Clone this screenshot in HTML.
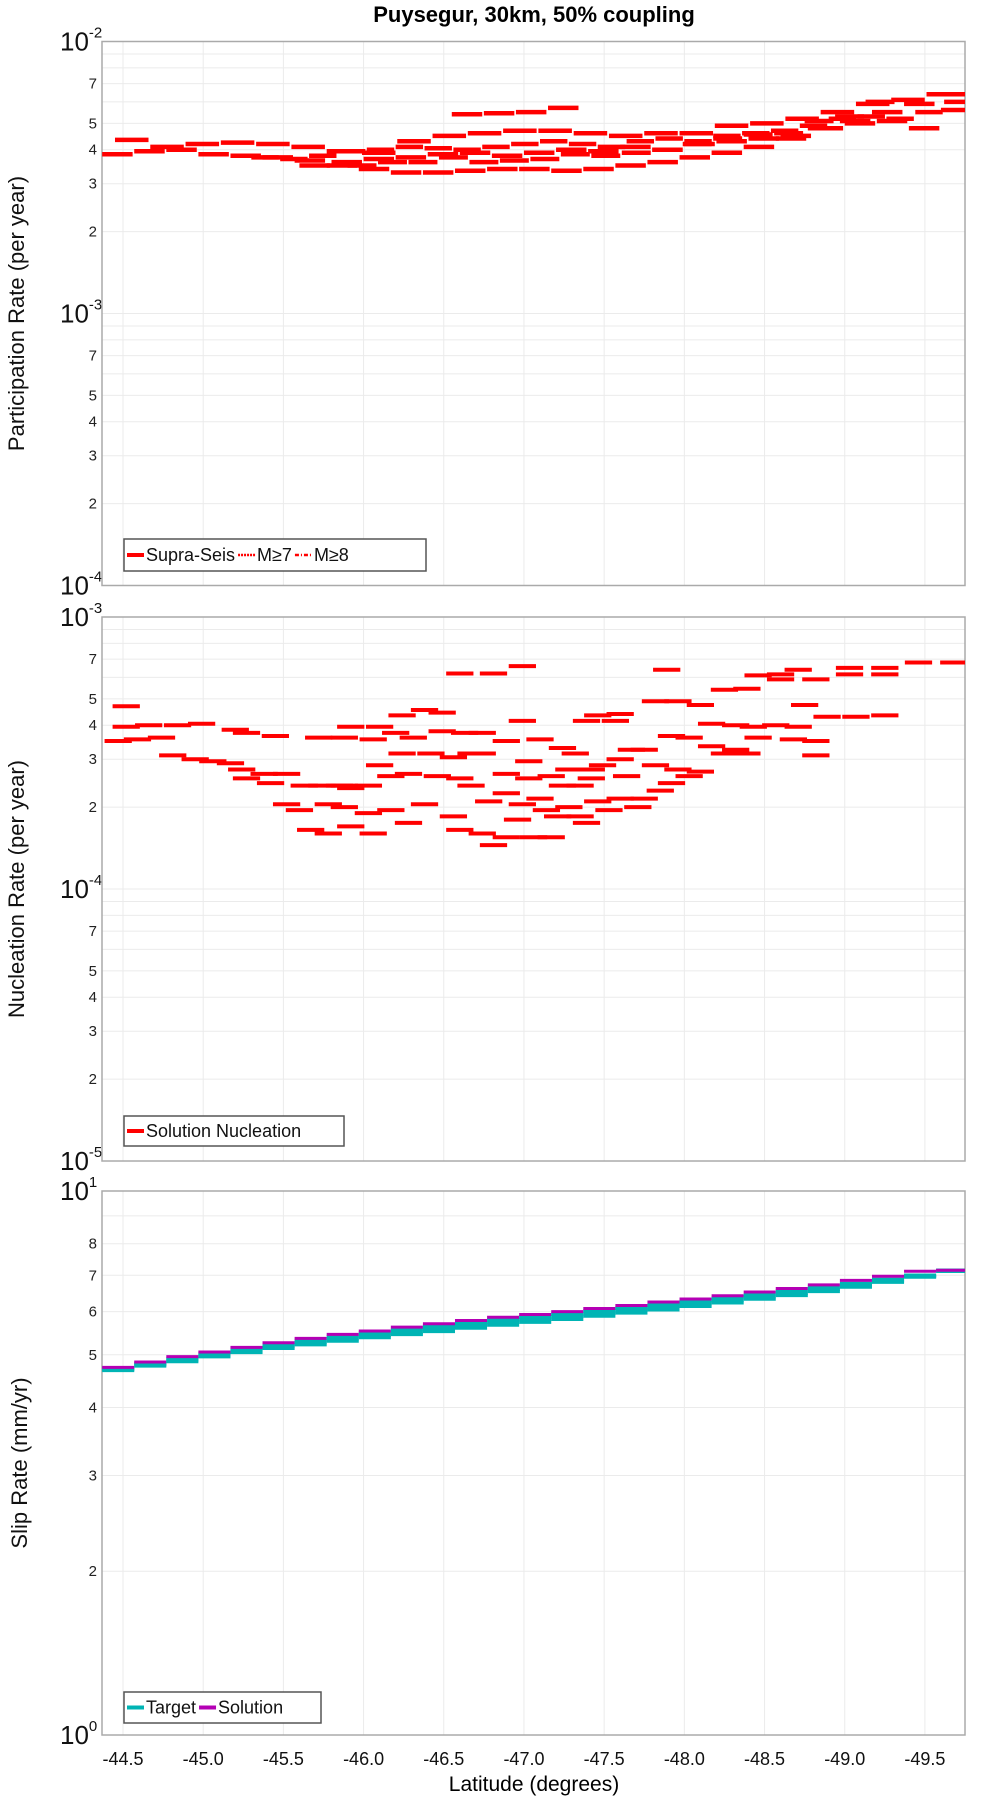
<!DOCTYPE html>
<html><head><meta charset="utf-8"><style>
html,body{margin:0;padding:0;background:#fff;}
svg{display:block;font-family:"Liberation Sans","DejaVu Sans",sans-serif;}
</style></head><body>
<svg id="chart" width="1000" height="1800" viewBox="0 0 1000 1800" xmlns="http://www.w3.org/2000/svg">
<text x="534" y="22" font-size="22" font-weight="bold" text-anchor="middle">Puysegur, 30km, 50% coupling</text>
<text x="534" y="1791" font-size="21" text-anchor="middle">Latitude (degrees)</text>
<g id="layer"></g>
</svg>
<script>
// ---------- data ----------
const xTickLabels = ["-44.5","-45.0","-45.5","-46.0","-46.5","-47.0","-47.5","-48.0","-48.5","-49.0","-49.5"];
const xTickValues = [-44.5,-45.0,-45.5,-46.0,-46.5,-47.0,-47.5,-48.0,-48.5,-49.0,-49.5];
// Participation tracks (x1e-3 per year), each: start lat, segment length (deg), values
const partStarts = [-44.37, -44.45, -45.3, -45.6, -45.9, -46.55];
const partLens = [0.2, 0.22, 0.18, 0.2, 0.19, 0.2];
const partTrack1 = [3.85,3.95,4.0,3.85,3.8,3.75,3.65,3.5,3.4,3.3,3.3,3.35,3.4,3.4,3.35,3.4,3.5,3.6,3.75,3.9,4.1,4.4,4.8,5.1,5.5,5.9,6.4];
const partTrack2 = [4.35,4.1,4.2,4.25,4.2,4.1,3.95,3.9,4.3,4.5,4.6,4.7,4.7,4.6,4.5,4.6,4.6,4.9,5.0,5.2,5.5,5.9,6.1,6.4];
const partTrack3 = [3.75,3.7,3.8,3.95,4.0,4.1,4.05,4.0,4.1,4.2,4.3,4.2,4.1,4.3,4.4,4.3,4.5,4.6,4.7,4.9,5.2,5.3,5.2,5.5,6.0];
const partTrack4 = [3.5,3.6,3.7,3.75,3.85,3.9,3.8,3.9,4.0,3.95,4.1,4.0,4.2,4.3,4.4,4.5,4.8,5.0,5.1,4.8,5.6];
const partTrack5 = [3.5,3.6,3.6,3.75,3.6,3.65,3.7,3.85,3.8,3.9,4.0,4.2,4.4,4.55,4.6,5.1,5.3,6.0];
const partTrack6 = [5.4,5.45,5.5,5.7];
// Nucleation segments (center lat, value x1e-4 per year)
const nucLat = [-44.47,-44.59,-44.74,-44.52,-44.66,-44.84,-44.99,-44.52,
-44.81,-44.95,-45.06,-45.17,-45.24,-45.38,-45.52,-45.27,-45.42,
-45.20,-45.27,-45.45,
-45.52,-45.63,-45.74,-45.85,-45.88,-45.92,
-45.60,-45.78,-45.88,-46.03,-45.67,-45.78,-45.92,-46.06,
-45.72,-45.88,-46.06,-45.92,-46.10,-46.20,-46.24,-46.38,-46.49,-46.31,
-46.10,-46.17,-46.28,-46.03,-46.17,-46.28,-46.38,
-46.24,-46.42,-46.56,-46.46,-46.60,-46.67,-46.67,
-46.49,-46.63,-46.74,-46.74,-46.60,-46.81,-46.99,
-46.56,-46.60,-46.74,-46.81,-46.89,-46.96,-47.06,-47.17,
-46.78,-46.89,-46.99,-47.10,-47.14,-47.21,-47.28,-47.35,
-46.89,-47.03,-47.17,-47.24,-47.35,-47.42,
-46.89,-46.99,-47.10,-47.24,-47.32,-47.03,-47.28,-47.42,
-47.46,-47.60,-47.39,-47.57,-47.49,-47.60,-47.67,-47.64,
-47.46,-47.60,-47.39,-47.53,-47.71,-47.75,-47.85,-47.92,
-47.82,-47.96,-47.89,-47.75,-47.92,-48.03,-47.82,-47.96,-48.03,-48.10,
-48.10,-48.25,-48.39,-48.46,-48.60,-48.71,-48.60,-48.82,
-48.17,-48.32,-48.43,-48.57,-48.71,-48.17,-48.32,-48.39,-48.25,
-48.46,-48.68,-48.82,-48.82,-48.75,-48.89,-49.07,-49.25,
-49.03,-49.25,-49.03,-49.25,-49.46,-49.68];
const nucVal = [3.5,3.55,3.6,3.95,4.0,4.0,4.05,4.7,
3.1,3.0,2.95,2.9,2.75,2.65,2.65,2.55,2.45,
3.85,3.75,3.65,
2.05,2.4,2.4,2.4,2.4,2.35,
1.95,2.05,2.0,1.9,1.65,1.6,1.7,1.6,
3.6,3.6,3.55,3.95,3.95,3.75,4.35,4.55,4.45,3.6,
2.85,2.6,2.65,2.4,1.95,1.75,2.05,
3.15,3.15,3.05,2.6,2.55,2.4,3.15,
3.8,3.75,3.75,3.15,6.2,6.2,6.6,
1.85,1.65,1.6,1.45,1.55,1.8,1.55,1.55,
2.1,2.25,2.05,2.15,1.95,1.85,2.0,1.85,
2.65,2.55,2.6,2.4,2.4,2.55,
3.5,4.15,3.55,3.3,3.15,2.95,2.75,2.75,
4.35,4.4,4.15,4.15,2.85,3.0,3.25,2.6,
2.1,2.15,1.75,1.95,2.0,2.15,2.3,2.45,
4.9,4.9,6.4,3.25,3.65,3.6,2.85,2.75,2.6,2.7,
4.75,5.4,5.45,6.1,6.15,6.4,5.9,5.9,
4.05,4.0,3.95,4.0,3.95,3.35,3.25,3.15,3.15,
3.6,3.55,3.5,3.1,4.75,4.3,4.3,4.35,
6.15,6.15,6.5,6.5,6.8,6.8];
// Slip rates (mm/yr), segments starting at slipLat, 0.2 deg long
const slipLat = [-44.37,-44.57,-44.77,-44.97,-45.17,-45.37,-45.57,-45.77,-45.97,-46.17,-46.37,-46.57,-46.77,-46.97,-47.17,-47.37,-47.57,-47.77,-47.97,-48.17,-48.37,-48.57,-48.77,-48.97,-49.17,-49.37,-49.57];
const targetHigh = [4.72,4.82,4.92,5.02,5.12,5.22,5.31,5.40,5.48,5.56,5.64,5.72,5.80,5.87,5.94,6.02,6.10,6.18,6.27,6.36,6.45,6.55,6.65,6.76,6.88,7.0,7.15];
const targetLow = [4.68,4.77,4.86,4.96,5.05,5.14,5.22,5.30,5.38,5.45,5.52,5.60,5.67,5.74,5.81,5.89,5.97,6.05,6.14,6.23,6.33,6.43,6.54,6.66,6.80,6.95,7.12];
const solution = [4.74,4.85,4.96,5.06,5.16,5.26,5.36,5.45,5.53,5.62,5.70,5.78,5.86,5.93,6.00,6.08,6.16,6.25,6.33,6.42,6.52,6.62,6.72,6.85,6.97,7.12,7.15];

// ---------- layout ----------
const NS = "http://www.w3.org/2000/svg";
const layer = document.getElementById('layer');
const L = 102, R = 965;
const LAT0 = -44.369, LAT1 = -49.75;
function xs(lat){ return L + (lat - LAT0) / (LAT1 - LAT0) * (R - L); }
function mk(tag, attrs, parent){ const e = document.createElementNS(NS, tag); for (const k in attrs) e.setAttribute(k, attrs[k]); (parent||layer).appendChild(e); return e; }

const panels = [
 {top:41.5, bottom:585.5, maxExp:-2, minExp:-4, labels:[2,3,4,5,7], title:"Participation Rate (per year)", name:"participation"},
 {top:617, bottom:1161, maxExp:-3, minExp:-5, labels:[2,3,4,5,7], title:"Nucleation Rate (per year)", name:"nucleation"},
 {top:1191, bottom:1735, maxExp:1, minExp:0, labels:[2,3,4,5,6,7,8], title:"Slip Rate (mm/yr)", name:"slip"}
];
panels.forEach(p => { p.ys = v => p.top + (p.maxExp - Math.log10(v)) / (p.maxExp - p.minExp) * (p.bottom - p.top); });

panels.forEach((p, pi) => {
  const g = mk('g', {});
  
  
  for (let e = p.minExp; e < p.maxExp; e++) {
    for (let m = 2; m <= 9; m++) {
      const y = p.ys(m * Math.pow(10, e));
      const gl = mk('line', {x1:L, x2:R, y1:y, y2:y, stroke:'#ebebeb', 'stroke-width':1}, g);
      
      
    }
    if (e > p.minExp) {
      const y = p.ys(Math.pow(10, e));
      const gl = mk('line', {x1:L, x2:R, y1:y, y2:y, stroke:'#ebebeb', 'stroke-width':1}, g);
      
      
    }
  }
  xTickValues.forEach(v => {
    const x = xs(v);
    const gl = mk('line', {x1:x, x2:x, y1:p.top, y2:p.bottom, stroke:'#ebebeb', 'stroke-width':1}, g);
    
    
  });
  for (let e = p.minExp; e < p.maxExp; e++) {
    p.labels.forEach(m => {
      const t = mk('text', {x:97, y:p.ys(m*Math.pow(10,e)) + 5, 'font-size':15, 'text-anchor':'end', fill:'#222'}, g);
      t.textContent = m;
      
      
    });
  }
  for (let e = p.minExp; e <= p.maxExp; e++) {
    const y = p.ys(Math.pow(10, e));
    const t = mk('text', {x:60, y:y + 9, 'font-size':26, fill:'#111'}, g);
    
    
    t.textContent = '10';
    const s = mk('tspan', {dy:-13, 'font-size':15}, t);
    s.textContent = String(e);
  }
  const cy = (p.top + p.bottom) / 2;
  const at = mk('text', {x:0, y:0, 'font-size':22, 'text-anchor':'middle', transform:`translate(${pi===2?27:24},${cy}) rotate(-90)`, fill:'#111'}, g);
  at.textContent = p.title;
  
  
  const bd = mk('rect', {x:L, y:p.top, width:R-L, height:p.bottom-p.top, fill:'none', stroke:'#aaaaaa', 'stroke-width':1.5}, g);
  
  
  p.g = g;
});

xTickValues.forEach((v, i) => {
  const t = mk('text', {x:xs(v), y:1765, 'font-size':18, 'text-anchor':'middle', fill:'#111'});
  t.textContent = xTickLabels[i];
  
  
});

function seg(p, lat0, lat1, v, color, w, name){
  let x1 = xs(lat0), x2 = xs(lat1);
  x1 = Math.max(L, Math.min(R, x1)); x2 = Math.max(L, Math.min(R, x2));
  const y = p.ys(v);
  const s = mk('line', {x1:x1, x2:x2, y1:y, y2:y, stroke:color, 'stroke-width':w}, p.g);
  
  
}

const P1 = panels[0];
const partTracks = [partTrack1, partTrack2, partTrack3, partTrack4, partTrack5, partTrack6];
partTracks.forEach((tr, ti) => {
  tr.forEach((v, i) => {
    const a = partStarts[ti] - i * partLens[ti];
    seg(P1, a, a - partLens[ti] * 0.95, v * 1e-3, '#ff0000', 4.5, 'participation-segment');
  });
});
const P2 = panels[1];
nucLat.forEach((lat, i) => {
  seg(P2, lat + 0.085, lat - 0.085, nucVal[i] * 1e-4, '#ff0000', 4, 'nucleation-segment');
});
const P3 = panels[2];
slipLat.forEach((lat, i) => {
  const m = (targetHigh[i] + targetLow[i]) / 2;
  seg(P3, lat, lat - 0.2, targetLow[i], '#00b4b4', 3.5, 'target-segment');
  seg(P3, lat, lat - 0.2, m, '#00b4b4', 3.5, 'target-segment');
  seg(P3, lat, lat - 0.2, targetHigh[i], '#00b4b4', 3.5, 'target-segment');
  seg(P3, lat, lat - 0.2, solution[i], '#b400b4', 3, 'solution-segment');
});

function legend(x, y, w, h, items, name){
  const g = mk('g', {});
  
  
  mk('rect', {x:x, y:y, width:w, height:h, fill:'#fff', stroke:'#555', 'stroke-width':1.5}, g);
  let cx = x + 3;
  items.forEach(it => {
    const ln = mk('line', {x1:cx, x2:cx+17, y1:y+h/2, y2:y+h/2, stroke:it.c, 'stroke-width':it.w||4, 'stroke-dasharray':it.d||'none'}, g);
    
    
    const t = mk('text', {x:cx+19, y:y+h/2+6, 'font-size':18, fill:'#111'}, g);
    t.textContent = it.t;
    
    
    let tw = 60;
    try { tw = t.getComputedTextLength(); } catch(e) {}
    cx += 19 + tw + 3;
  });
}
legend(124, 539, 302, 32, [
  {t:'Supra-Seis', c:'#ff0000'},
  {t:'M≥7', c:'#ff0000', d:'2,1', w:2.5},
  {t:'M≥8', c:'#ff0000', d:'4,2,1,2', w:2.5}
], 'participation-legend');
legend(124, 1116, 220, 30, [{t:'Solution Nucleation', c:'#ff0000'}], 'nucleation-legend');
legend(124, 1692, 197, 31, [
  {t:'Target', c:'#00b4b4'},
  {t:'Solution', c:'#b400b4'}
], 'slip-legend');
</script>
</body></html>
